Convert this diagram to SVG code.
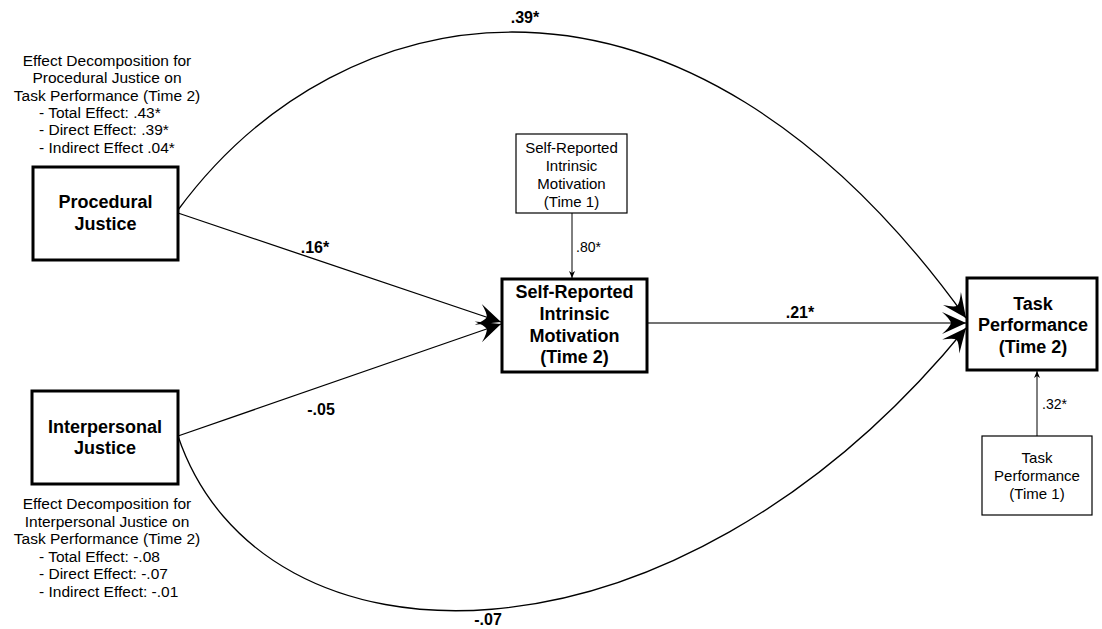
<svg xmlns="http://www.w3.org/2000/svg" width="1102" height="629" viewBox="0 0 1102 629">
<style>
text{font-family:"Liberation Sans",Arial,sans-serif;fill:#000}
.note{font-size:15.5px}
.node{font-size:18px;font-weight:bold;text-anchor:middle}
.small{font-size:15px;text-anchor:middle}
.lbl{font-size:16px;font-weight:bold;text-anchor:middle}
.coef{font-size:14px}
.big{fill:#fff;stroke:#000;stroke-width:3}
.sm{fill:#fff;stroke:#000;stroke-width:1.2}
.edge{fill:none;stroke:#000;stroke-width:1.3}
.thin{fill:none;stroke:#000;stroke-width:1}
</style>
<defs>
<marker id="barb" viewBox="-26 -12 28 24" refX="0" refY="0" markerWidth="28" markerHeight="24" markerUnits="userSpaceOnUse" orient="auto">
<path d="M0,0 L-24,-11 Q-16,-4 -15,0 Q-16,4 -24,11 Z" fill="#000"/>
</marker>
<marker id="small" viewBox="-8 -4 9 8" refX="0" refY="0" markerWidth="9" markerHeight="8" markerUnits="userSpaceOnUse" orient="auto">
<path d="M0,0 L-7,-3 L-5,0 L-7,3 Z" fill="#000"/>
</marker>
</defs>

<g id="connectors">
<path class="edge" d="M178,210 C340,-10 680,-80 966,318" marker-end="url(#barb)"/>
<path class="edge" d="M178,436 C260,680 670,690 966,328" marker-end="url(#barb)"/>
<line class="edge" x1="178" y1="213" x2="501" y2="322" marker-end="url(#barb)"/>
<line class="edge" x1="178" y1="436" x2="501" y2="324" marker-end="url(#barb)"/>
<line x1="647" y1="323" x2="966" y2="323" style="fill:none;stroke:#444;stroke-width:1.6" marker-end="url(#barb)"/>
<line class="thin" x1="572" y1="213" x2="572" y2="278" marker-end="url(#small)"/>
<line class="thin" x1="1037" y1="436" x2="1037" y2="371" marker-end="url(#small)"/>
<text class="lbl" x="525" y="23">.39*</text>
<text class="lbl" x="488" y="625">-.07</text>
<text class="lbl" x="315" y="253">.16*</text>
<text class="lbl" x="321" y="415">-.05</text>
<text class="lbl" x="800" y="318">.21*</text>
<text class="coef" x="576" y="252">.80*</text>
<text class="coef" x="1042" y="409">.32*</text>
</g>

<g id="note-procedural">
<text class="note" text-anchor="middle" x="107" y="66">Effect Decomposition for</text>
<text class="note" text-anchor="middle" x="107" y="83">Procedural Justice on</text>
<text class="note" text-anchor="middle" x="107" y="101">Task Performance (Time 2)</text>
<text class="note" x="39" y="118">- Total Effect: .43*</text>
<text class="note" x="39" y="135">- Direct Effect: .39*</text>
<text class="note" x="39" y="153">- Indirect Effect .04*</text>
</g>

<g id="note-interpersonal">
<text class="note" text-anchor="middle" x="107" y="509">Effect Decomposition for</text>
<text class="note" text-anchor="middle" x="107" y="527">Interpersonal Justice on</text>
<text class="note" text-anchor="middle" x="107" y="544">Task Performance (Time 2)</text>
<text class="note" x="39" y="562">- Total Effect: -.08</text>
<text class="note" x="39" y="579">- Direct Effect: -.07</text>
<text class="note" x="39" y="597">- Indirect Effect: -.01</text>
</g>

<g id="procedural-justice">
<rect class="big" x="33" y="167" width="145" height="93"/>
<text class="node" x="105.5" y="208">Procedural</text>
<text class="node" x="105.5" y="230">Justice</text>
</g>

<g id="interpersonal-justice">
<rect class="big" x="32" y="391" width="146" height="93"/>
<text class="node" x="105" y="433">Interpersonal</text>
<text class="node" x="105" y="454">Justice</text>
</g>

<g id="motivation-t1">
<rect class="sm" x="516" y="134" width="111" height="79"/>
<text class="small" x="571.5" y="153">Self-Reported</text>
<text class="small" x="571.5" y="171">Intrinsic</text>
<text class="small" x="571.5" y="189">Motivation</text>
<text class="small" x="571.5" y="207">(Time 1)</text>
</g>

<g id="motivation-t2">
<rect class="big" x="502" y="279" width="145" height="93"/>
<text class="node" x="574.5" y="298">Self-Reported</text>
<text class="node" x="574.5" y="320">Intrinsic</text>
<text class="node" x="574.5" y="342">Motivation</text>
<text class="node" x="574.5" y="363">(Time 2)</text>
</g>

<g id="task-t2">
<rect class="big" x="967" y="278" width="130" height="92"/>
<text class="node" x="1033" y="310">Task</text>
<text class="node" x="1033" y="331">Performance</text>
<text class="node" x="1033" y="353">(Time 2)</text>
</g>

<g id="task-t1">
<rect class="sm" x="982" y="436" width="110" height="79"/>
<text class="small" x="1037" y="463">Task</text>
<text class="small" x="1037" y="481">Performance</text>
<text class="small" x="1037" y="499">(Time 1)</text>
</g>
</svg>
